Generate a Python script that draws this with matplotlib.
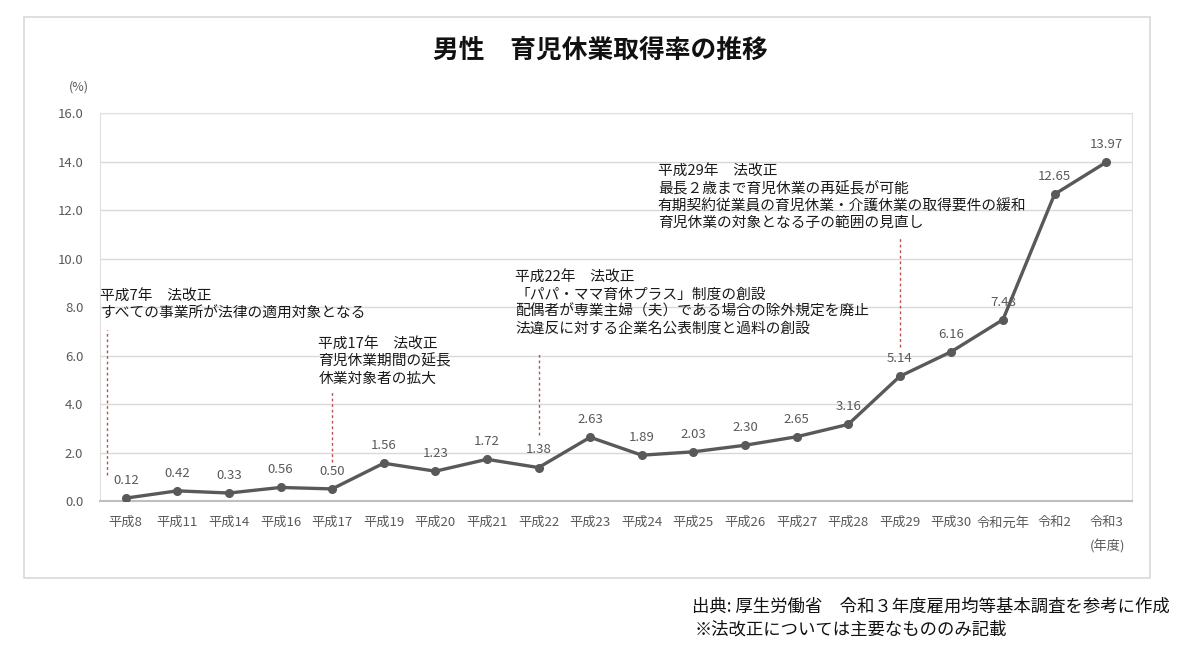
import matplotlib
matplotlib.use('Agg')
import matplotlib.pyplot as plt
from matplotlib.patches import Rectangle

plt.rcParams['font.family'] = ['Noto Sans CJK JP', 'DejaVu Sans']

# データ
years = ['平成8', '平成11', '平成14', '平成16', '平成17', '平成19', '平成20', '平成21',
         '平成22', '平成23', '平成24', '平成25', '平成26', '平成27', '平成28', '平成29',
         '平成30', '令和元年', '令和2', '令和3']
rates = [0.12, 0.42, 0.33, 0.56, 0.50, 1.56, 1.23, 1.72, 1.38, 2.63,
         1.89, 2.03, 2.30, 2.65, 3.16, 5.14, 6.16, 7.48, 12.65, 13.97]
yticks = [0, 2, 4, 6, 8, 10, 12, 14, 16]

# 法改正の注記
notes = [
    '平成7年　法改正\nすべての事業所が法律の適用対象となる',
    '平成17年　法改正\n育児休業期間の延長\n休業対象者の拡大',
    '平成22年　法改正\n「パパ・ママ育休プラス」制度の創設\n配偶者が専業主婦（夫）である場合の除外規定を廃止\n法違反に対する企業名公表制度と過料の創設',
    '平成29年　法改正\n最長２歳まで育児休業の再延長が可能\n有期契約従業員の育児休業・介護休業の取得要件の緩和\n育児休業の対象となる子の範囲の見直し',
]
note_x = [-0.49, 3.73, 7.55, 10.31]
note_y = [8.7, 6.75, 9.5, 13.85]
mark_x = [-0.37, 4, 8, 15]
mark_y0 = [1.07, 1.6, 2.72, 6.35]
mark_y1 = [7.05, 4.58, 6.14, 10.93]

fig = plt.figure(figsize=(12, 6.66), dpi=100)
ax = fig.add_axes([0.0833, 0.2477, 0.86, 0.5826])

# 外枠
fig.patches.append(Rectangle((0.02, 0.132), 0.938, 0.842, transform=fig.transFigure,
                             fill=False, edgecolor='#d9d9d9', linewidth=1.2))

x = list(range(len(years)))
ax.plot(x, rates, color='#595959', linewidth=2.4, marker='o', markersize=5.5, zorder=3)

for xi, v in zip(x, rates):
    ax.annotate(f'{v:.2f}', (xi, v), xytext=(0, 8), textcoords='offset points',
                ha='center', va='bottom', fontsize=9.5, color='#595959')

# 注記と点線
for t, tx, ty in zip(notes, note_x, note_y):
    ax.text(tx, ty, t, ha='left', va='top', fontsize=10.6, color='#1a1a1a', linespacing=1.25)
for mx, y0, y1 in zip(mark_x, mark_y0, mark_y1):
    ax.plot([mx, mx], [y0, y1], color='#c0504d', linestyle=(0, (2, 2)), linewidth=1)

ax.set_xlim(-0.5, len(years) - 0.5)
ax.set_ylim(0, 16)
ax.set_xticks(x)
ax.set_xticklabels(years, fontsize=9.5, color='#595959')
ax.set_yticks(yticks)
ax.set_yticklabels([f'{v:.1f}' for v in yticks], fontsize=9.5, color='#595959')
ax.tick_params(axis='both', length=0)
ax.tick_params(axis='x', pad=11)
ax.tick_params(axis='y', pad=12)
ax.grid(axis='y', color='#d9d9d9', linewidth=1)
ax.set_axisbelow(True)
for s in ['left', 'right', 'top']:
    ax.spines[s].set_color('#e0e0e0')
ax.spines['bottom'].set_color('#bfbfbf')
ax.spines['bottom'].set_linewidth(1.5)

fig.text(0.057, 0.869, '(%)', fontsize=9, color='#595959', ha='left', va='center')
fig.text(0.923, 0.18, '(年度)', fontsize=9.5, color='#595959', ha='center', va='center')

fig.text(0.5, 0.925, '男性　育児休業取得率の推移', fontsize=18.5, fontweight='bold',
         ha='center', va='center', color='#111111')

fig.text(0.975, 0.09, '出典: 厚生労働省　令和３年度雇用均等基本調査を参考に作成',
         fontsize=12.5, ha='right', va='center', color='#111111')
fig.text(0.579, 0.054, '※法改正については主要なもののみ記載',
         fontsize=12.5, ha='left', va='center', color='#111111')

fig.savefig('out.png', dpi=100)
